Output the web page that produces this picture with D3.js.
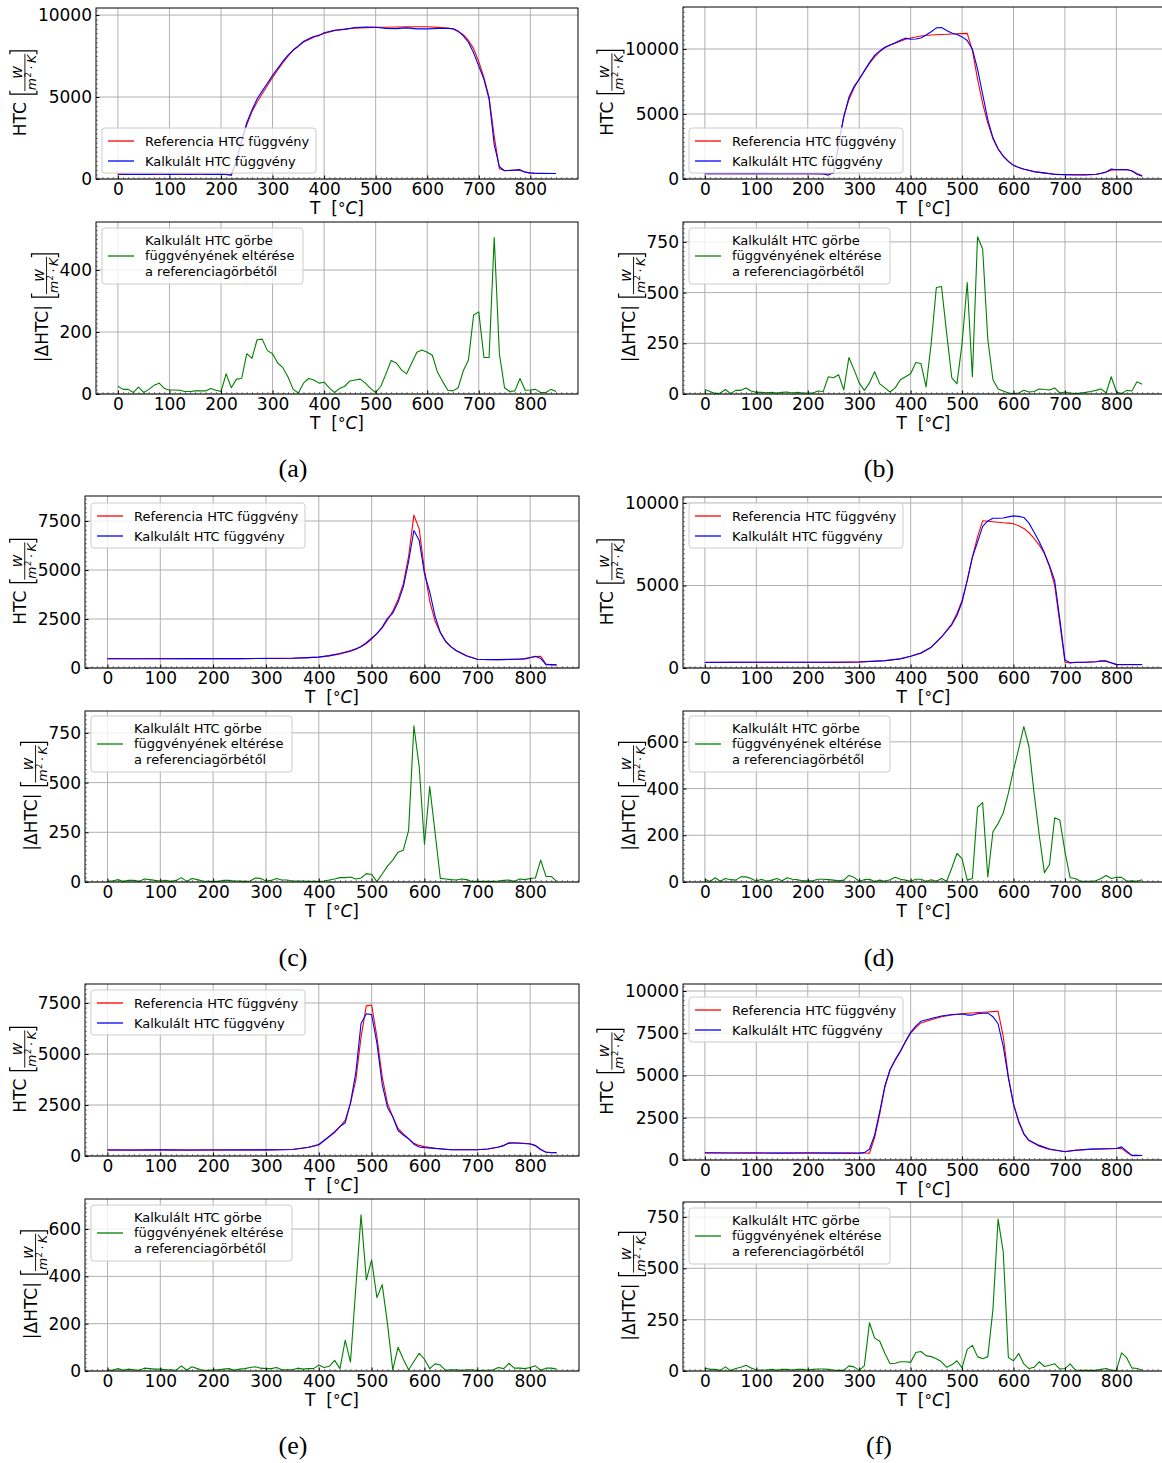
<!DOCTYPE html>
<html><head><meta charset="utf-8">
<script src="https://cdn.jsdelivr.net/npm/d3@7"></script>
<style>body{margin:0;background:#fff}svg{display:block}</style>
</head><body>
<svg id="c" width="1162" height="1463"></svg>
<script>
// ---------------- DATA ----------------
const tTicks=[0,100,200,300,400,500,600,700,800];
const htcTicks10k=[0,5000,10000];
const htcTicks7500=[0,2500,5000,7500];
const htcTicks10kFine=[0,2500,5000,7500,10000];
const errTicks400=[0,200,400];
const errTicks750=[0,250,500,750];
const errTicks600=[0,200,400,600];
const captions=['(a)','(b)','(c)','(d)','(e)','(f)'];
const legendHTC=['Referencia HTC függvény','Kalkulált HTC függvény'];
const legendErr=['Kalkulált HTC görbe','függvényének eltérése','a referenciagörbétől'];

const tempsA=[0,20,40,60,80,100,120,140,160,180,200,210,220,230,240,250,260,270,280,290,300,310,320,330,340,350,360,370,380,390,400,420,440,460,480,500,520,540,560,580,600,620,640,650,660,670,680,690,700,710,720,730,740,750,760,770,780,790,800,810,820,850];
const refA=[300,280,290,280,290,290,290,290,290,290,290,280,250,1100,2300,3300,4100,4700,5200,5700,6200,6650,7100,7500,7850,8100,8350,8500,8650,8780,8880,9050,9150,9200,9230,9250,9260,9270,9280,9290,9290,9250,9200,9150,9000,8800,8450,7950,7150,6200,5000,2600,620,520,530,550,520,430,360,340,340,340];
const calcA=[290,285,280,285,290,285,290,285,290,285,280,270,230,1150,2350,3430,4215,4875,5377,5840,6330,6750,7185,7555,7865,8115,8385,8550,8695,8745,8918,9070,9125,9245,9265,9255,9190,9170,9215,9155,9155,9180,9190,9160,9020,8725,8340,7695,6885,6080,4880,2095,750,500,522,540,570,418,373,355,345,332];

const tempsB=[0,50,100,150,200,230,240,250,260,270,280,290,300,310,320,330,340,350,360,370,380,390,400,410,420,430,440,450,460,470,480,490,500,510,520,530,540,550,560,570,580,590,600,610,620,640,660,680,700,720,740,760,770,780,790,800,810,820,830,840,850];
const refB=[400,400,400,400,400,400,400,420,2600,4800,6100,7000,7700,8300,8900,9400,9800,10100,10300,10450,10600,10750,10850,10920,11000,11040,11080,11100,11120,11130,11150,11160,11180,11200,9900,7700,5800,4300,3100,2300,1750,1350,1050,880,750,560,450,380,330,320,320,350,420,530,680,720,720,710,620,430,260];
const calcB=[405,400,410,400,405,390,300,500,2700,4780,6280,7120,7650,8320,8950,9510,9850,10130,10310,10480,10670,10835,10750,10770,10850,11075,11330,11625,11650,11430,11230,11110,10930,10650,9985,8475,6515,4570,3170,2325,1765,1355,1052,885,768,570,472,350,340,322,325,368,445,535,765,710,722,728,635,370,212];

const tempsC=[0,50,100,150,200,250,300,350,380,400,420,440,460,470,480,490,500,510,520,530,540,550,560,570,580,590,600,610,620,630,640,650,660,680,700,720,740,760,780,790,800,810,820,830,840,850];
const refC=[480,470,480,470,480,480,490,500,530,560,620,720,860,960,1080,1250,1480,1750,2050,2450,2900,3500,4300,5700,7800,7100,5000,3400,2400,1800,1350,1080,880,620,450,430,420,430,460,480,520,580,600,200,160,160];
const calcC=[475,475,475,478,480,478,485,495,530,557,630,740,880,975,1100,1290,1518,1752,2090,2530,2790,3350,4140,5440,7015,6520,4810,3880,2650,1818,1365,1092,890,615,450,428,425,440,450,465,540,600,490,170,180,160];

const tempsD=[0,50,100,150,200,250,300,350,380,400,420,440,460,480,490,500,510,520,530,540,550,560,570,580,590,600,610,620,630,640,650,660,670,680,690,700,710,720,740,760,770,780,790,800,820,850];
const refD=[350,340,350,340,350,340,370,440,560,710,900,1260,1870,2680,3300,4100,5300,6700,7950,8920,8890,8860,8830,8800,8780,8740,8620,8460,8200,7850,7450,6940,6130,5010,2700,350,300,330,350,380,430,400,300,200,200,200];
const calcD=[330,345,350,345,345,345,365,445,555,715,905,1260,1880,2620,3180,4000,5308,6715,7630,8580,8912,9075,9080,9095,9160,9220,9190,9125,8780,8230,7650,6980,6205,5285,2965,480,318,345,345,375,420,430,320,220,210,210];

const tempsE=[0,50,100,150,200,250,300,350,380,400,420,430,440,450,460,470,480,490,500,510,520,530,540,550,560,570,580,590,600,620,650,700,720,740,750,760,770,780,800,810,820,830,840,850];
const refE=[300,290,300,290,300,295,300,320,420,540,950,1150,1435,1760,2580,3720,5840,7360,7400,5840,3880,2580,1925,1350,1080,850,620,520,460,380,310,310,340,430,520,620,650,640,600,520,320,190,170,160];
const calcE=[295,295,300,295,295,300,300,318,430,565,970,1195,1445,1630,2618,4070,6500,6975,6930,5530,3515,2380,1920,1250,1030,845,580,445,410,375,305,308,345,440,510,650,640,628,585,500,322,185,160,165];

const tempsF=[0,50,100,150,200,250,280,300,310,320,330,340,350,360,370,380,390,400,410,420,440,460,480,500,510,520,530,540,550,560,570,580,590,600,610,620,630,650,670,700,720,750,800,810,820,830,840,850];
const refF=[420,410,420,410,420,410,420,410,410,400,1330,2730,4320,5320,5900,6410,6980,7510,7830,8110,8300,8480,8580,8650,8680,8700,8720,8740,8760,8780,8800,7310,4920,3330,2230,1530,1150,820,620,500,570,640,680,690,460,260,260,270];
const calcF=[430,415,415,405,415,405,395,407,435,635,1490,2875,4405,5355,5938,6455,7025,7552,7920,8205,8370,8525,8610,8635,8575,8575,8650,8680,8690,8480,8060,6730,4855,3280,2315,1565,1162,865,648,488,575,643,683,778,525,275,272,265];

const errTemps=[0,10,20,30,40,50,60,70,80,90,100,110,120,130,140,150,160,170,180,190,200,210,220,230,240,250,260,270,280,290,300,310,320,330,340,350,360,370,380,390,400,410,420,430,440,450,460,470,480,490,500,510,520,530,540,550,560,570,580,590,600,610,620,630,640,650,660,670,680,690,700,710,720,730,740,750,760,770,780,790,800,810,820,830,840,850];
const errA=[25,15,15,5,22,5,15,28,35,18,13,13,12,8,8,10,10,10,18,12,8,65,20,48,50,130,115,175,177,140,130,100,85,55,15,3,35,50,45,35,38,20,5,18,25,42,45,48,35,18,5,25,65,108,100,78,65,100,135,142,135,125,70,40,12,10,20,75,110,255,265,118,118,505,130,20,8,10,50,12,13,15,5,5,15,8];
const errB=[22,12,2,5,22,2,18,18,30,15,8,8,6,8,5,8,10,5,8,5,5,5,15,12,85,80,95,20,180,120,55,18,55,110,50,30,10,30,70,85,100,155,150,35,250,525,530,300,80,50,250,550,85,775,715,270,70,25,15,5,2,5,18,10,12,25,22,20,30,5,10,5,2,5,8,12,18,25,5,85,10,2,18,15,60,48];
const errC=[5,5,12,3,8,8,3,15,12,8,5,8,3,8,22,3,18,12,5,3,3,3,8,8,5,5,3,5,20,18,5,8,18,10,10,5,5,5,3,3,3,5,10,15,22,22,25,15,20,42,38,2,40,80,110,150,160,260,785,580,190,480,250,18,15,12,10,15,12,3,3,3,3,3,5,8,10,3,15,12,18,20,110,28,28,3];
const errD=[12,2,18,3,15,10,8,22,22,15,3,12,3,8,15,5,18,12,10,5,5,5,12,12,10,8,5,8,28,20,3,10,12,2,8,3,10,20,12,8,3,12,12,2,10,3,15,3,60,122,100,8,15,320,340,22,215,250,295,380,480,570,665,580,380,200,40,75,275,265,130,18,15,3,3,3,5,15,28,15,20,20,3,5,3,10];
const errE=[5,3,10,3,8,5,3,12,10,8,8,5,5,3,22,3,18,10,3,3,5,5,8,10,3,8,10,15,18,12,10,10,15,5,5,5,12,8,10,10,25,15,20,45,10,130,38,350,660,385,470,310,365,200,5,100,50,5,40,75,50,10,30,25,3,5,5,3,5,5,2,3,3,5,15,10,32,12,12,10,15,22,3,12,12,8];
const errF=[15,8,8,3,20,2,12,18,28,15,5,5,5,8,3,8,8,5,8,8,5,8,10,10,8,5,3,3,25,20,3,25,235,160,145,85,35,38,45,45,42,90,95,75,70,60,45,18,30,50,15,105,125,70,60,70,300,740,580,65,50,85,35,12,18,45,22,28,35,10,12,35,5,3,3,3,3,8,12,3,3,88,65,15,12,5];

// ---------------- LAYOUT ----------------
const FONT='"DejaVu Sans", Verdana, sans-serif';
const svg=d3.select('#c');
const defs=svg.append('defs');

const htcPanels=[
 {id:'a',x0:96,x1:578,top:8,bot:179,ymax:10430,ticks:htcTicks10k,t:tempsA,ref:refA,calc:calcA,leg:[102,128]},
 {id:'b',x0:683,x1:1164,top:7,bot:179,ymax:13230,ticks:htcTicks10k,t:tempsB,ref:refB,calc:calcB,leg:[689,128]},
 {id:'c',x0:85,x1:579,top:496,bot:668,ymax:8775,ticks:htcTicks7500,t:tempsC,ref:refC,calc:calcC,leg:[91,503]},
 {id:'d',x0:683,x1:1164,top:497,bot:668,ymax:10364,ticks:htcTicks10k,t:tempsD,ref:refD,calc:calcD,leg:[689,503]},
 {id:'e',x0:85,x1:579,top:984,bot:1156,ymax:8431,ticks:htcTicks7500,t:tempsE,ref:refE,calc:calcE,leg:[91,990]},
 {id:'f',x0:683,x1:1164,top:984,bot:1160,ymax:10414,ticks:htcTicks10kFine,t:tempsF,ref:refF,calc:calcF,leg:[689,997]}
];
const errPanels=[
 {id:'ea',x0:96,x1:578,top:222,bot:394,ymax:555,ticks:errTicks400,err:errA,leg:[102,228]},
 {id:'eb',x0:683,x1:1164,top:222,bot:394,ymax:848,ticks:errTicks750,err:errB,leg:[689,228]},
 {id:'ec',x0:85,x1:579,top:711,bot:882,ymax:860,ticks:errTicks750,err:errC,leg:[91,716]},
 {id:'ed',x0:683,x1:1164,top:711,bot:882,ymax:732,ticks:errTicks600,err:errD,leg:[689,716]},
 {id:'ee',x0:85,x1:579,top:1199,bot:1371,ymax:727,ticks:errTicks600,err:errE,leg:[91,1205]},
 {id:'ef',x0:683,x1:1164,top:1202,bot:1371,ymax:823,ticks:errTicks750,err:errF,leg:[689,1208]}
];
const captionPos=[[293,477],[879,477],[293,966],[879,966],[293,1454],[879,1454]];

function txtLen(sel){return sel.node().getComputedTextLength();}

function drawAxes(p,kind,series,legendLabels){
  const g=svg.append('g');
  const x=d3.scaleLinear().domain([-42.5,892.5]).range([p.x0,p.x1]);
  const y=d3.scaleLinear().domain([0,p.ymax]).range([p.bot,p.top]);
  // grid
  g.append('g').selectAll('line').data(tTicks).join('line')
    .attr('x1',d=>x(d)).attr('x2',d=>x(d)).attr('y1',p.top).attr('y2',p.bot)
    .attr('stroke','#b0b0b0').attr('stroke-width',1);
  g.append('g').selectAll('line').data(p.ticks).join('line')
    .attr('x1',p.x0).attr('x2',p.x1).attr('y1',d=>y(d)).attr('y2',d=>y(d))
    .attr('stroke','#b0b0b0').attr('stroke-width',1);
  // clip
  const cid='clip_'+p.id;
  defs.append('clipPath').attr('id',cid).append('rect')
    .attr('x',p.x0).attr('y',p.top).attr('width',p.x1-p.x0).attr('height',p.bot-p.top);
  const line=d3.line().x(d=>x(d[0])).y(d=>y(d[1]));
  const lg=g.append('g').attr('clip-path',`url(#${cid})`);
  series.forEach(s=>{
    lg.append('path').datum(d3.zip(s.t,s.v)).attr('d',line)
      .attr('fill','none').attr('stroke',s.color).attr('stroke-width',1.1)
      .attr('stroke-linejoin','round');
  });
  // legend
  const [lx,ly]=p.leg;
  const L=g.append('g');
  if(kind==='htc'){
    L.append('rect').attr('x',lx).attr('y',ly).attr('width',214).attr('height',45).attr('rx',3)
      .attr('fill','#fff').attr('fill-opacity',0.8).attr('stroke','#cccccc').attr('stroke-width',1);
    series.forEach((s,i)=>{
      const yy=ly+13+i*20;
      L.append('line').attr('x1',lx+6).attr('x2',lx+32).attr('y1',yy).attr('y2',yy).attr('stroke',s.color).attr('stroke-width',1.3);
      L.append('text').attr('x',lx+43).attr('y',yy+4.6).attr('font-size',13).attr('font-family',FONT).attr('fill','#000').text(legendLabels[i]);
    });
  } else {
    L.append('rect').attr('x',lx).attr('y',ly).attr('width',201).attr('height',56).attr('rx',3)
      .attr('fill','#fff').attr('fill-opacity',0.8).attr('stroke','#cccccc').attr('stroke-width',1);
    L.append('line').attr('x1',lx+6).attr('x2',lx+32).attr('y1',ly+28).attr('y2',ly+28).attr('stroke','#008000').attr('stroke-width',1.3);
    legendLabels.forEach((t,i)=>{
      L.append('text').attr('x',lx+43).attr('y',ly+12+i*15.7+4.6).attr('font-size',13).attr('font-family',FONT).attr('fill','#000').text(t);
    });
  }
  // spine
  g.append('rect').attr('x',p.x0).attr('y',p.top).attr('width',p.x1-p.x0).attr('height',p.bot-p.top)
    .attr('fill','none').attr('stroke','#000').attr('stroke-width',1);
  // minor ticks
  const xMinor=d3.range(-40,891,10).filter(v=>v%100!==0);
  const majStep=p.ticks[1];
  const nMin=Math.max(2,Math.round((y(0)-y(majStep))/4.5));
  const yMinor=d3.range(0,p.ymax,majStep/nMin).filter(v=>Math.abs(v/majStep-Math.round(v/majStep))>1e-6);
  const xmi=g.append('g').attr('transform',`translate(0,${p.bot})`)
    .call(d3.axisBottom(x).tickValues(xMinor).tickSize(-2).tickFormat(''));
  xmi.select('.domain').remove(); xmi.selectAll('line').attr('stroke','#333').attr('stroke-width',0.6);
  const ymi=g.append('g').attr('transform',`translate(${p.x0},0)`)
    .call(d3.axisLeft(y).tickValues(yMinor).tickSize(-2).tickFormat(''));
  ymi.select('.domain').remove(); ymi.selectAll('line').attr('stroke','#333').attr('stroke-width',0.6);
  // major ticks
  const xa=g.append('g').attr('transform',`translate(0,${p.bot})`)
    .call(d3.axisBottom(x).tickValues(tTicks).tickSize(-3.5).tickPadding(4).tickFormat(d3.format('d')));
  xa.select('.domain').remove();
  xa.selectAll('line').attr('stroke','#000');
  xa.selectAll('text').attr('font-size',17).attr('font-family',FONT).attr('fill','#000');
  const ya=g.append('g').attr('transform',`translate(${p.x0},0)`)
    .call(d3.axisLeft(y).tickValues(p.ticks).tickSize(-3.5).tickPadding(4).tickFormat(d3.format('d')));
  ya.select('.domain').remove();
  ya.selectAll('line').attr('stroke','#000');
  ya.selectAll('text').attr('font-size',17).attr('font-family',FONT).attr('fill','#000');
  let maxW=0; ya.selectAll('text').each(function(){maxW=Math.max(maxW,this.getComputedTextLength());});
  // x label
  const cx=(p.x0+p.x1)/2;
  const xl=g.append('text').attr('x',cx).attr('y',p.bot+35).attr('text-anchor','middle')
    .attr('font-family',FONT).attr('font-size',17).attr('fill','#000').style('white-space','pre');
  xl.append('tspan').text('T  [');
  xl.append('tspan').attr('font-size',15).text('°');
  xl.append('tspan').attr('font-style','italic').text('C');
  xl.append('tspan').text(']');
  // y label
  const tickLeft=p.x0-4-maxW;
  const baseX=tickLeft-1-11;
  const cy=(p.top+p.bot)/2;
  drawYLabel(g,baseX,cy,kind==='htc'?'HTC':'|ΔHTC|');
}

function drawYLabel(g,bx,cy,main){
  const G=g.append('g').attr('transform',`translate(${bx},${cy}) rotate(-90)`);
  const m=G.append('text').attr('font-family',FONT).attr('font-size',17).attr('fill','#000').attr('y',0).text(main);
  const w1=txtLen(m);
  const num=G.append('text').attr('font-family',FONT).attr('font-size',12.5).attr('font-style','italic').attr('fill','#000').attr('text-anchor','middle').text('W');
  const pieces=[{t:'m',it:true,fs:12.5,dy:0,pl:0,pr:0},{t:'2',it:false,fs:8.5,dy:-5,pl:0.5,pr:0},{t:'·',it:false,fs:12.5,dy:0,pl:2.5,pr:2.5},{t:'K',it:true,fs:12.5,dy:0,pl:0,pr:0}];
  const dens=pieces.map(pc=>{
    const e=G.append('text').attr('font-family',FONT).attr('font-size',pc.fs).attr('fill','#000')
      .attr('font-style',pc.it?'italic':'normal').text(pc.t);
    return {e,pc,w:txtLen(e)};
  });
  const denW=d3.sum(dens,d=>d.w+d.pc.pl+d.pc.pr);
  const fw=Math.max(denW,txtLen(num))+2;
  const gap=8, bpad=3;
  const total=w1+gap+bpad+fw+bpad;
  const u0=-total/2;
  m.attr('x',u0);
  const uB=u0+w1+gap;
  const fx=uB+bpad;
  num.attr('x',fx+fw/2).attr('y',-4);
  G.append('line').attr('x1',fx).attr('x2',fx+fw).attr('y1',-1).attr('y2',-1).attr('stroke','#000').attr('stroke-width',0.9);
  let ux=fx+(fw-denW)/2;
  dens.forEach(d=>{ux+=d.pc.pl; d.e.attr('x',ux).attr('y',10+d.pc.dy); ux+=d.w+d.pc.pr;});
  const uE=fx+fw+bpad;
  G.append('path').attr('d',`M${uB+3.5},-16H${uB}V11H${uB+3.5}`).attr('fill','none').attr('stroke','#000').attr('stroke-width',1.2);
  G.append('path').attr('d',`M${uE-3.5},-16H${uE}V11H${uE-3.5}`).attr('fill','none').attr('stroke','#000').attr('stroke-width',1.2);
}

htcPanels.forEach(p=>{
  drawAxes(p,'htc',[{t:p.t,v:p.ref,color:'#ff0000'},{t:p.t,v:p.calc,color:'#0000ff'}],legendHTC);
});
errPanels.forEach(p=>{
  drawAxes(p,'err',[{t:errTemps,v:p.err,color:'#008000'}],legendErr);
});
captions.forEach((c,i)=>{
  svg.append('text').attr('x',captionPos[i][0]).attr('y',captionPos[i][1]).attr('text-anchor','middle')
    .attr('font-family','"Liberation Serif", "Times New Roman", serif').attr('font-size',26).attr('fill','#000').text(c);
});
</script>
</body></html>
